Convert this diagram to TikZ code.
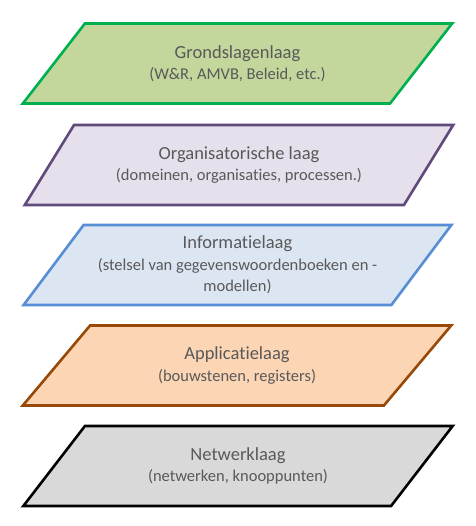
\documentclass[tikz,border=0pt]{standalone}
\usepackage{fontspec}
\setmainfont{Carlito}[Ligatures=NoCommon]
\usepackage{tikz}
\usetikzlibrary{shapes.geometric}
\definecolor{tekstgrijs}{HTML}{595959}
\definecolor{grondrand}{HTML}{00B050}
\definecolor{grondvul}{HTML}{C3D69B}
\definecolor{orgrand}{HTML}{604A7B}
\definecolor{orgvul}{HTML}{E5E0EC}
\definecolor{inforand}{HTML}{558ED5}
\definecolor{infovul}{HTML}{DCE6F2}
\definecolor{apprand}{HTML}{984807}
\definecolor{appvul}{HTML}{FCD5B5}
\definecolor{netrand}{HTML}{000000}
\definecolor{netvul}{HTML}{D9D9D9}
\newcommand{\laagtitel}[1]{{\fontsize{18.5}{21.5}\selectfont #1}}

\begin{document}
\begin{tikzpicture}[x=1pt,y=1pt,
    laag/.style={trapezium, trapezium left angle=49.3, trapezium right angle=130.7,
        trapezium stretches=true, minimum width=430pt, minimum height=80pt,
        line width=2.6pt, align=center, text=tekstgrijs,
        font=\fontsize{16.5}{21.5}\selectfont}]
    \useasboundingbox (0,0) rectangle (475,526);

    % de vijf lagen, van boven naar beneden
    \node[laag, draw=grondrand, fill=grondvul] (grond) at (237.5,462.5)
        {\laagtitel{Grondslagenlaag}\\(W\&R, AMVB, Beleid, etc.)};
    \node[laag, draw=orgrand, fill=orgvul] (org) at (239,361)
        {\laagtitel{Organisatorische laag}\\(domeinen, organisaties, processen.)};
    \node[laag, draw=inforand, fill=infovul] (info) at (237.5,261)
        {\laagtitel{Informatielaag}\\(stelsel van gegevenswoordenboeken en -\\modellen)};
    \node[laag, draw=apprand, fill=appvul] (app) at (237,160.5)
        {\laagtitel{Applicatielaag}\\(bouwstenen, registers)};
    \node[laag, draw=netrand, fill=netvul] (net) at (238,60)
        {\laagtitel{Netwerklaag}\\(netwerken, knooppunten)};
\end{tikzpicture}
\end{document}
